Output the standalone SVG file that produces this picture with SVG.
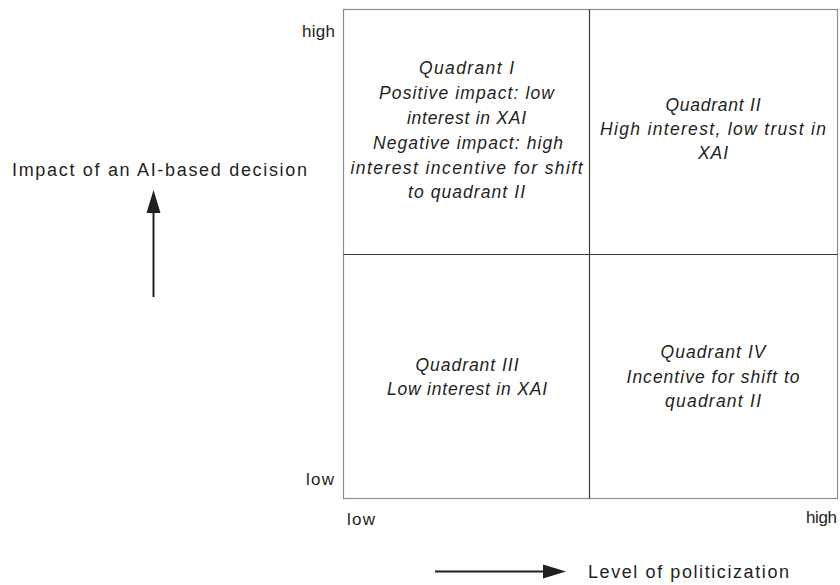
<svg xmlns="http://www.w3.org/2000/svg" width="840" height="585" viewBox="0 0 840 585">
<style>
  .lbl { font-family: "Liberation Sans", Arial, sans-serif; font-size: 17px; fill: #231f20; }
  .ax { font-family: "Liberation Sans", Arial, sans-serif; font-size: 18px; fill: #231f20; }
  .q { font-family: "Liberation Sans", Arial, sans-serif; font-size: 17.5px; font-style: italic; fill: #231f20; text-anchor: middle; }
  .outer { fill: none; stroke: #8c8c8c; stroke-width: 1.2; }
  .inner { stroke: #3a3a3a; stroke-width: 1.2; }
  .arr { stroke: #231f20; stroke-width: 2; fill: none; }
  .head { fill: #231f20; }
</style>
<g id="grid">
  <rect class="outer" x="343.5" y="9.5" width="494" height="489"/>
  <line class="inner" x1="589.5" y1="9.5" x2="589.5" y2="498.5"/>
  <line class="inner" x1="343.5" y1="254.5" x2="837.5" y2="254.5"/>
</g>
<g id="axis-labels">
  <text class="lbl" x="335" y="37" text-anchor="end" textLength="33" lengthAdjust="spacing">high</text>
  <text class="lbl" x="334" y="485" text-anchor="end" textLength="28" lengthAdjust="spacing">low</text>
  <text class="lbl" x="347" y="525" textLength="28" lengthAdjust="spacing">low</text>
  <text class="lbl" x="806" y="523" textLength="31" lengthAdjust="spacing">high</text>
  <text class="ax" x="12" y="176" textLength="295" lengthAdjust="spacing">Impact of an AI-based decision</text>
  <text class="ax" x="588" y="578" textLength="201" lengthAdjust="spacing">Level of politicization</text>
</g>
<g id="connectors">
  <path class="arr" d="M153.5,297 L153.5,212"/>
  <path class="head" d="M146.5,213 L160.5,213 L153.5,190 Z"/>
  <path class="arr" d="M435,571.5 L544,571.5"/>
  <path class="head" d="M543,564.5 L543,578.5 L566,571.5 Z"/>
</g>
<g id="quadrant-1">
  <text class="q" x="466.5" y="74" textLength="95" lengthAdjust="spacing">Quadrant I</text>
  <text class="q" x="466.5" y="99" textLength="175" lengthAdjust="spacing">Positive impact: low</text>
  <text class="q" x="466.5" y="124" textLength="119" lengthAdjust="spacing">interest in XAI</text>
  <text class="q" x="468" y="149" textLength="190" lengthAdjust="spacing">Negative impact: high</text>
  <text class="q" x="466.5" y="173.5" textLength="232" lengthAdjust="spacing">interest incentive for shift</text>
  <text class="q" x="466.5" y="198" textLength="117" lengthAdjust="spacing">to quadrant II</text>
</g>
<g id="quadrant-2">
  <text class="q" x="713" y="111" textLength="95" lengthAdjust="spacing">Quadrant II</text>
  <text class="q" x="713" y="135" textLength="226" lengthAdjust="spacing">High interest, low trust in</text>
  <text class="q" x="713" y="159" textLength="30" lengthAdjust="spacing">XAI</text>
</g>
<g id="quadrant-3">
  <text class="q" x="467" y="371" textLength="103" lengthAdjust="spacing">Quadrant III</text>
  <text class="q" x="467" y="395" textLength="160" lengthAdjust="spacing">Low interest in XAI</text>
</g>
<g id="quadrant-4">
  <text class="q" x="713" y="357.5" textLength="105" lengthAdjust="spacing">Quadrant IV</text>
  <text class="q" x="713" y="382.5" textLength="173" lengthAdjust="spacing">Incentive for shift to</text>
  <text class="q" x="713" y="406.5" textLength="96" lengthAdjust="spacing">quadrant II</text>
</g>
</svg>
